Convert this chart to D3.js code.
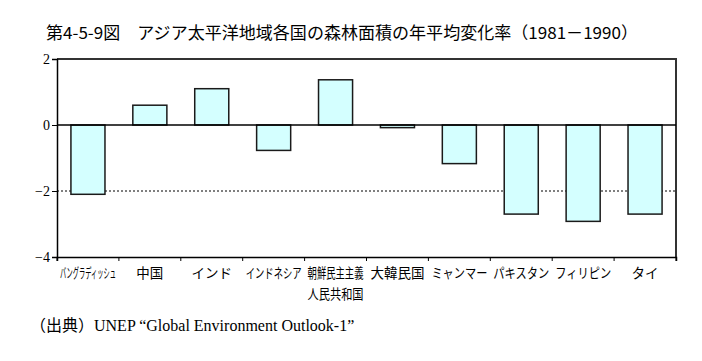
<!DOCTYPE html>
<html><head><meta charset="utf-8">
<script src="https://cdn.jsdelivr.net/npm/d3@7"></script>
<style>body{margin:0;background:#fff}svg{display:block}</style>
</head><body>
<script>
const categories = ["バングラディッシュ","中国","インド","インドネシア","朝鮮民主主義\n人民共和国","大韓民国","ミャンマー","パキスタン","フィリピン","タイ"];
const values = [-2.1, 0.6, 1.1, -0.77, 1.37, -0.08, -1.17, -2.7, -2.92, -2.7];
const yTicks = [2, 0, -2, -4];
const titleText = "第4-5-9図　アジア太平洋地域各国の森林面積の年平均変化率（1981－1990）";
const sourceText = "（出典）UNEP “Global Environment Outlook-1”";

const W = 702, H = 361;
const m = {left: 57, right: 676, top: 59, bottom: 257};
const svg = d3.select("body").append("svg").attr("width", W).attr("height", H);

const x = d3.scaleBand().domain(categories).range([m.left, m.right]).paddingInner(0.45).paddingOuter(0.225);
const xb = d3.scaleBand().domain(categories).range([m.left, m.right]);
const y = d3.scaleLinear().domain([-4, 2]).range([m.bottom, m.top]);

svg.append("text").attr("x", 46).attr("y", 39)
  .attr("font-family", "'Noto Sans CJK JP', sans-serif").attr("font-size", 16.5)
  .attr("textLength", 592).attr("lengthAdjust", "spacingAndGlyphs")
  .text(titleText);

// frame top/right
svg.append("path").attr("d", `M${m.left},${m.top}H${m.right}V${m.bottom}`)
  .attr("fill", "none").attr("stroke", "#333").attr("stroke-width", 2);

// dotted -2 line
svg.append("line").attr("x1", m.left).attr("x2", m.right).attr("y1", y(-2)).attr("y2", y(-2))
  .attr("stroke", "#000").attr("stroke-width", 1).attr("stroke-dasharray", "2,2");

// bars
svg.selectAll("rect.bar").data(values).join("rect").attr("class", "bar")
  .attr("x", (d, i) => x(categories[i]))
  .attr("width", x.bandwidth())
  .attr("y", d => y(Math.max(0, d)))
  .attr("height", d => Math.abs(y(d) - y(0)))
  .attr("fill", "#d4ffff").attr("stroke", "#1a1a1a").attr("stroke-width", 1.5);

// zero line
svg.append("line").attr("x1", m.left).attr("x2", m.right).attr("y1", y(0)).attr("y2", y(0))
  .attr("stroke", "#000").attr("stroke-width", 1.5);

// y axis
const ya = svg.append("g").attr("transform", `translate(${m.left},0)`)
  .call(d3.axisLeft(y).tickValues(yTicks).tickSize(5).tickFormat(d => d < 0 ? "−" + Math.abs(d) : d));
ya.select(".domain").attr("stroke-width", 1.5);
ya.selectAll("text").attr("font-family", "'Liberation Serif', serif").attr("font-size", 14).attr("fill", "#000").attr("dx", 1);

// x axis
const xa = svg.append("g").attr("transform", `translate(0,${m.bottom})`)
  .call(d3.axisBottom(xb).tickSize(4).tickFormat(""));
xa.select(".domain").attr("stroke-width", 1.5);
xa.selectAll(".tick").remove();
const edges = categories.map(c => xb(c)).concat([m.right]);
xa.selectAll("line.t").data(edges).join("line").attr("class", "t")
  .attr("x1", d => d).attr("x2", d => d).attr("y1", 0).attr("y2", 4).attr("stroke", "#000");

// category labels
categories.forEach((c, i) => {
  const lines = c.split("\n");
  const cx = xb(c) + xb.bandwidth() / 2;
  lines.forEach((ln, j) => {
    const g = svg.append("g").attr("transform", `translate(${cx},${278 + j * 21})`);
    const t = g.append("text").attr("x", 0).attr("y", 0)
      .attr("text-anchor", "middle")
      .attr("font-family", "'Noto Sans CJK JP', sans-serif").attr("font-size", 13.5)
      .text(ln);
    const w = t.node().getComputedTextLength();
    const maxW = 56;
    if (w > maxW) t.attr("transform", `scale(${maxW / w},1)`);
  });
});

svg.append("text").attr("x", 30).attr("y", 331)
  .attr("font-family", "'Liberation Serif', 'Noto Sans CJK JP', serif").attr("font-size", 16)
  .text(sourceText);
</script>
</body></html>
